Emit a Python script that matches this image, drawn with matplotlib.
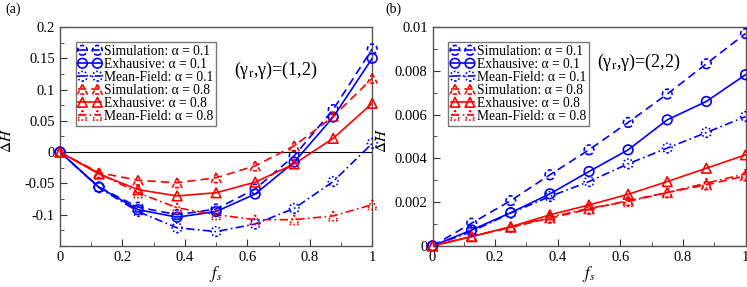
import numpy as np
import matplotlib
matplotlib.use("Agg")
import matplotlib.pyplot as plt
from matplotlib.ticker import MultipleLocator, FuncFormatter
from matplotlib.legend_handler import HandlerTuple

plt.rcParams['font.family'] = ['Liberation Serif', 'DejaVu Serif']
plt.rcParams['mathtext.fontset'] = 'stix'

# fraction of stubborn nodes
fs = [0, 0.125, 0.25, 0.375, 0.5, 0.625, 0.75, 0.875, 1.0]

# panel (a): (gamma_r, gamma) = (1, 2)
a_sim_01 = [0, -0.056, -0.088, -0.100, -0.091, -0.059, -0.006, 0.068, 0.165]
a_exh_01 = [0, -0.056, -0.092, -0.104, -0.095, -0.067, -0.016, 0.056, 0.150]
a_mf_01 = [0, -0.057, -0.095, -0.121, -0.127, -0.115, -0.090, -0.047, 0.014]
a_sim_08 = [0, -0.033, -0.045, -0.049, -0.041, -0.022, 0.010, 0.057, 0.118]
a_exh_08 = [0, -0.035, -0.060, -0.070, -0.065, -0.048, -0.019, 0.022, 0.078]
a_mf_08 = [0, -0.034, -0.065, -0.089, -0.100, -0.108, -0.108, -0.102, -0.084]

# panel (b): (gamma_r, gamma) = (2, 2)
b_sim_01 = [0, 0.00104, 0.00207, 0.00325, 0.00439, 0.00564, 0.00694, 0.00832, 0.0097]
b_exh_01 = [0, 0.00073, 0.00152, 0.00238, 0.00340, 0.00439, 0.00576, 0.00660, 0.00782]
b_mf_01 = [0, 0.00066, 0.00150, 0.00226, 0.00294, 0.00375, 0.00447, 0.00518, 0.00591]
b_sim_08 = [0, 0.00043, 0.00085, 0.00127, 0.00168, 0.00207, 0.00244, 0.00279, 0.00320]
b_exh_08 = [0, 0.00043, 0.00088, 0.00142, 0.00187, 0.00236, 0.00294, 0.00355, 0.00416]
b_mf_08 = [0, 0.00043, 0.00086, 0.00131, 0.00172, 0.00203, 0.00244, 0.00287, 0.00329]

labels = ['Simulation: α = 0.1', 'Exhausive: α = 0.1', 'Mean-Field: α = 0.1',
          'Simulation: α = 0.8', 'Exhausive: α = 0.8', 'Mean-Field: α = 0.8']

BLUE = '#0000ff'
RED = '#ff0000'
DASH = (0, (5, 3))
DASHDOT = (0, (5, 2, 1, 2))
styles = [(BLUE, 'o', DASH), (BLUE, 'o', 'solid'), (BLUE, 'o', DASHDOT),
          (RED, '^', DASH), (RED, '^', 'solid'), (RED, '^', DASHDOT)]


def fmt(v, pos):
    if abs(v) < 1e-12:
        return '0'
    return '%g' % round(v, 6)


def draw_panel(ax, series, ylim, ymaj, ymin, skip_bottom, note, note_xy, ylab_x):
    handles = []
    for (color, mk, ls), ys in zip(styles, series):
        ln, = ax.plot(fs, ys, color=color, linestyle=ls, lw=1.2, zorder=3)
        if ls == 'solid':
            mls = 'solid'
        elif ls == DASH:
            mls = (0, (2.5, 1.5))
        else:
            mls = (0, (1, 1.2))
        sc = ax.scatter(fs, ys, s=48, marker=mk, facecolors='none', edgecolors=color,
                        linewidths=1.2, linestyle=mls, zorder=4, clip_on=False)
        handles.append((ln, sc))
    ax.axhline(0, color='black', lw=0.8, zorder=1)
    ax.set_xlim(0, 1)
    ax.set_ylim(*ylim)
    ax.xaxis.set_major_locator(MultipleLocator(0.2))
    ax.xaxis.set_minor_locator(MultipleLocator(0.1))
    ax.yaxis.set_major_locator(MultipleLocator(ymaj))
    ax.yaxis.set_minor_locator(MultipleLocator(ymin))
    ax.xaxis.set_major_formatter(FuncFormatter(fmt))

    def yfmt(v, pos):
        if skip_bottom and abs(v - ylim[0]) < 1e-9:
            return ''
        return fmt(v, pos)
    ax.yaxis.set_major_formatter(FuncFormatter(yfmt))
    ax.tick_params(which='both', direction='in', labelsize=10.5, color='#333333')
    ax.tick_params(which='major', length=5)
    ax.tick_params(which='minor', length=3)
    for sp in ax.spines.values():
        sp.set_color('#555555')
        sp.set_linewidth(1.0)
    ax.set_xlabel('$f_s$', fontsize=12, labelpad=0)
    ax.set_ylabel('$\\Delta H$', fontsize=11)
    ax.yaxis.set_label_coords(ylab_x, 0.48)
    ax.text(note_xy[0], note_xy[1], note, fontsize=13, ha='center', va='center')
    leg = ax.legend(handles, labels, loc='upper left', bbox_to_anchor=(0.05, 0.93),
                    borderaxespad=0, fontsize=9.8, handlelength=1.7, handletextpad=0.2,
                    labelspacing=0.0, borderpad=0.2, fancybox=False, scatterpoints=2,
                    scatteryoffsets=[0.5],
                    handler_map={tuple: HandlerTuple(ndivide=1)})
    leg.get_frame().set_edgecolor('#555555')
    leg.get_frame().set_linewidth(1.0)


fig = plt.figure(figsize=(7.47, 2.87), dpi=100)
ax1 = fig.add_axes([0.0803, 0.143, 0.418, 0.763])
ax2 = fig.add_axes([0.579, 0.143, 0.419, 0.763])

draw_panel(ax1, [a_sim_01, a_exh_01, a_mf_01, a_sim_08, a_exh_08, a_mf_08],
           (-0.15, 0.2), 0.05, 0.025, True,
           '(γ$_{\\rm r}$,γ)=(1,2)', (0.69, 0.131), -0.147)
draw_panel(ax2, [b_sim_01, b_exh_01, b_mf_01, b_sim_08, b_exh_08, b_mf_08],
           (0, 0.01), 0.002, 0.001, False,
           '(γ$_{\\rm r}$,γ)=(2,2)', (0.66, 0.0084), -0.14)

fig.text(13 / 747, 1 - 9 / 287, '(a)', fontsize=10, ha='center', va='center')
fig.text(393 / 747, 1 - 9 / 287, '(b)', fontsize=10, ha='center', va='center')

fig.savefig('out.png', dpi=100)
